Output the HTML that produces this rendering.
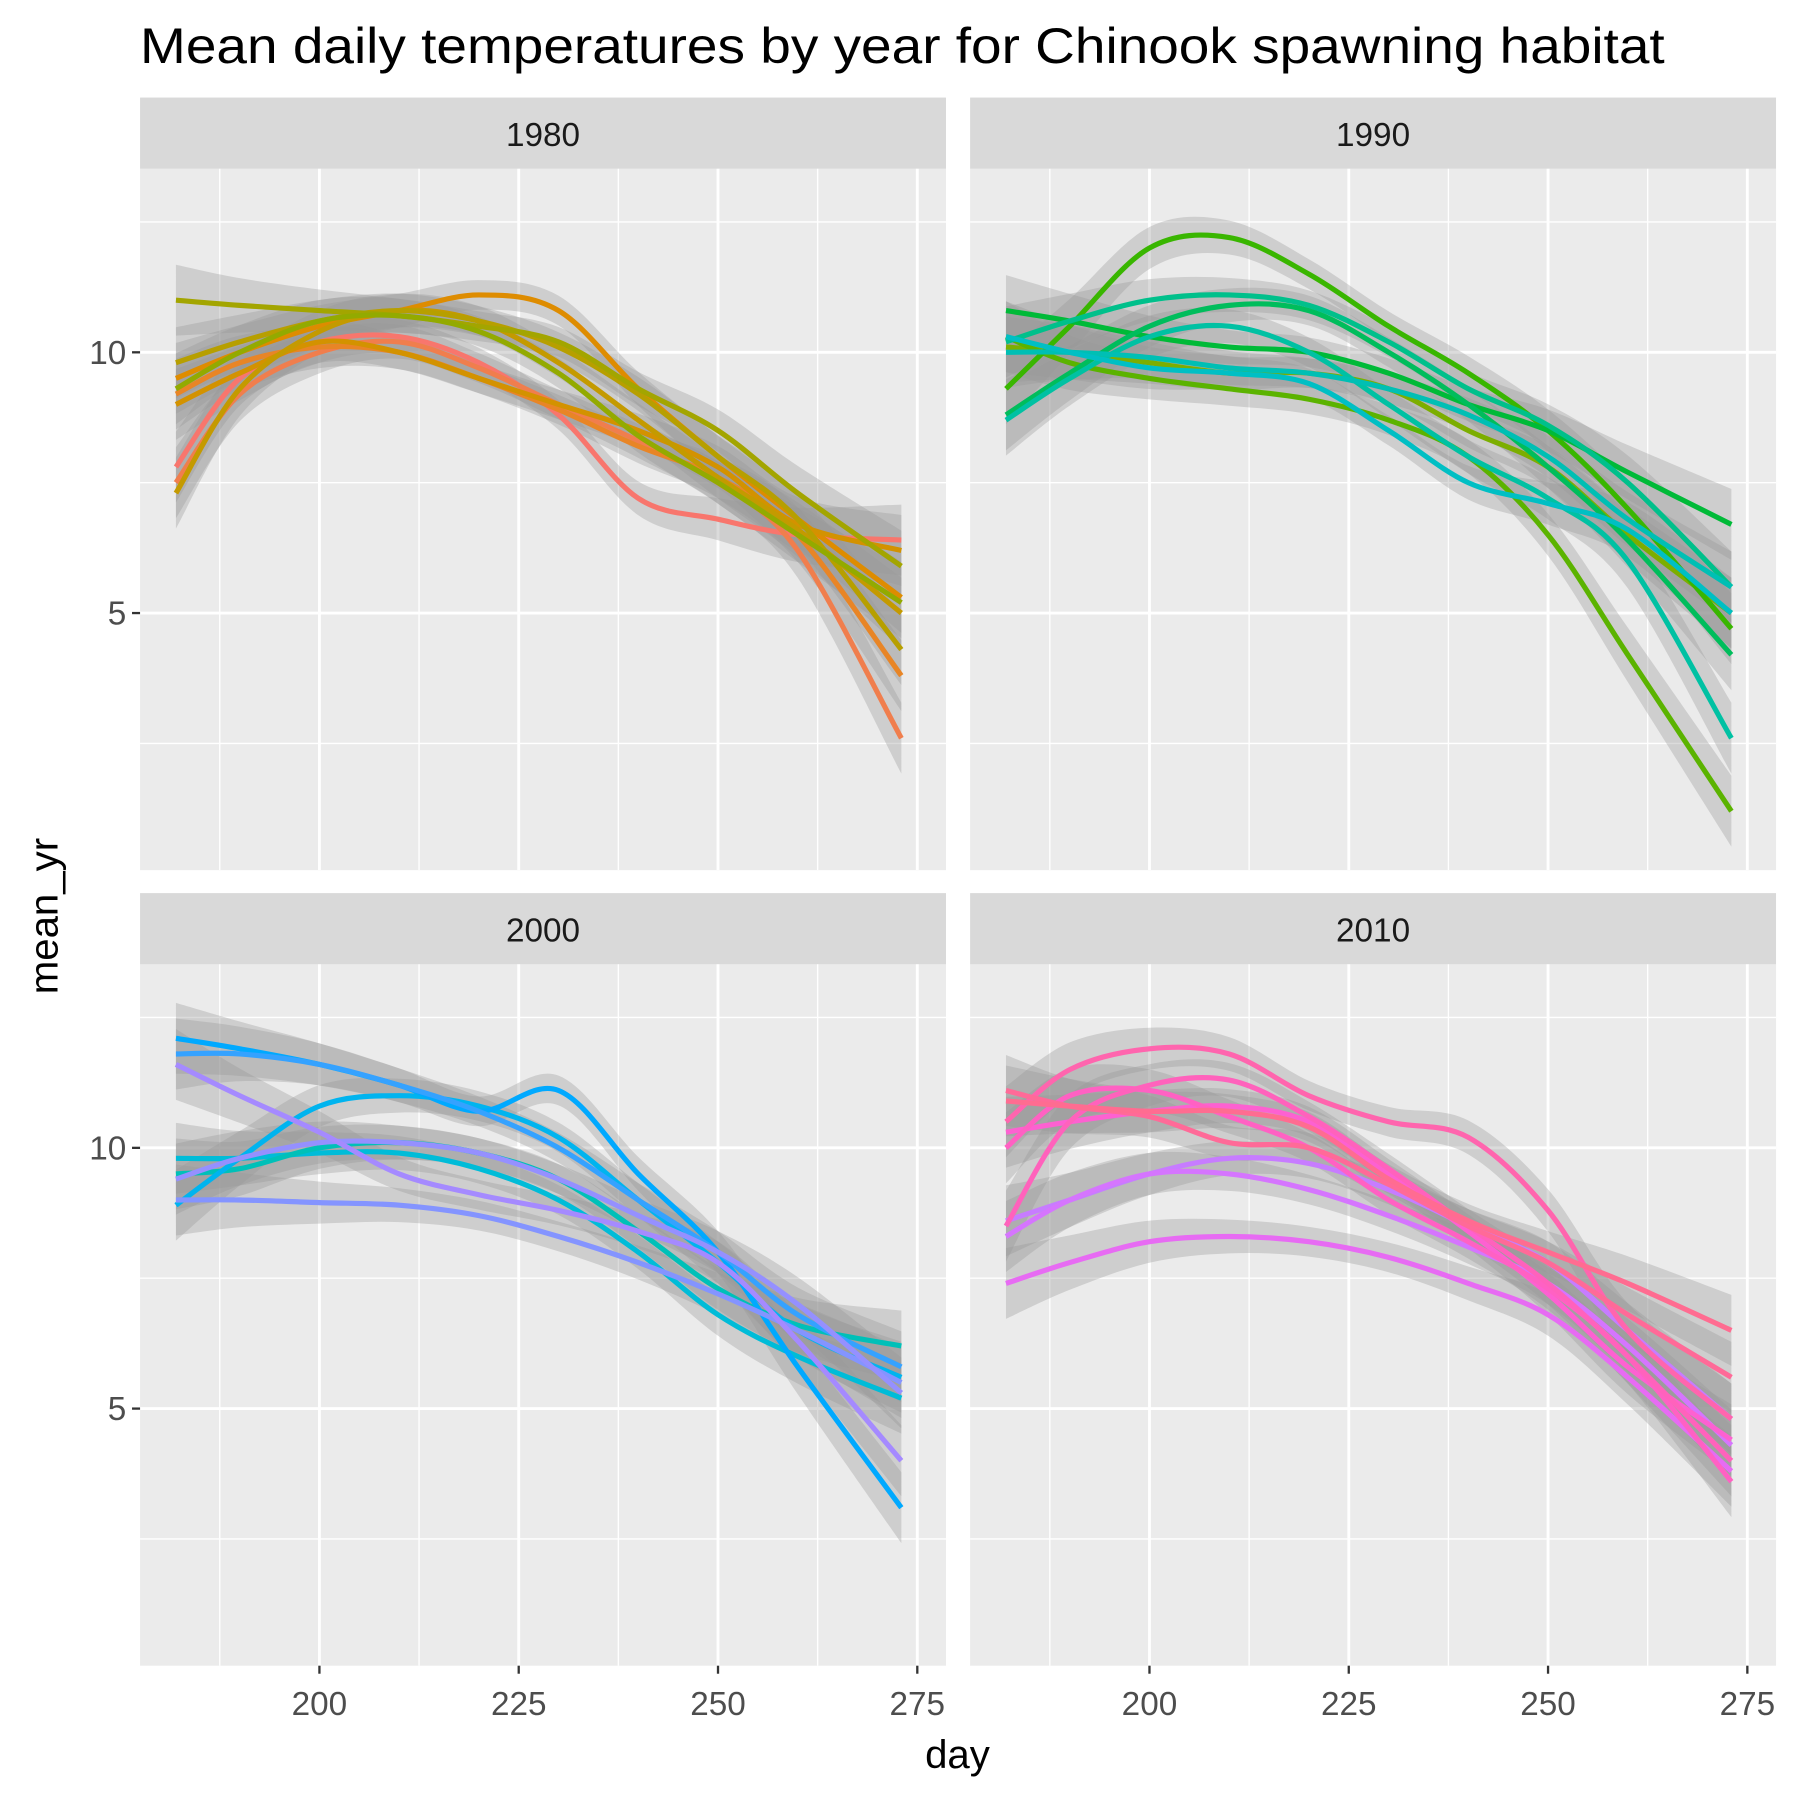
<!DOCTYPE html>
<html><head><meta charset="utf-8">
<style>html,body{margin:0;padding:0;background:#fff;}svg{display:block;}</style>
</head><body>
<svg id="chart" xmlns="http://www.w3.org/2000/svg" width="1799" height="1800" viewBox="0 0 1567 1568" preserveAspectRatio="none" font-family="Liberation Sans, Arial, sans-serif">
<text x="122" y="55" font-size="44" textLength="1328" lengthAdjust="spacingAndGlyphs" fill="#000">Mean daily temperatures by year for Chinook spawning habitat</text>
<text x="834" y="1540" font-size="35" text-anchor="middle" fill="#000">day</text>
<text transform="translate(50,798) rotate(-90)" font-size="35" text-anchor="middle" fill="#000">mean_yr</text>
<g id="panels"></g>
</svg>
<script>
const days = [182,190,200,210,220,230,240,250,260,273];
const xTicks = [200,225,250,275];
const yTicks = [5,10];
const panelLabels = ["1980","1990","2000","2010"];
const colors1980 = ["#F8766D","#F07E4D","#E88526","#DE8C00","#D39200","#C49A00","#B79F00","#A3A500","#93AA00"];
const series1980 = [
[7.8,9.5,10.2,10.3,9.8,8.8,7.2,6.8,6.5,6.4],
[7.5,9.2,10.0,10.2,9.7,9.0,8.3,7.5,6.2,2.6],
[9.2,9.8,10.1,10.0,9.5,8.9,8.2,7.6,6.5,3.8],
[9.5,10.0,10.5,10.8,11.1,10.8,9.3,8.0,6.8,5.3],
[9.0,9.6,10.2,10.0,9.5,9.0,8.5,7.8,6.7,6.2],
[7.3,9.3,10.4,10.8,10.6,9.8,8.7,7.6,6.6,5.0],
[9.8,10.2,10.6,10.8,10.6,10.1,9.2,8.0,6.8,4.3],
[11.0,10.9,10.8,10.7,10.5,10.2,9.3,8.5,7.3,5.9],
[9.3,10.0,10.6,10.7,10.4,9.6,8.4,7.5,6.5,5.2]];
const colors1990 = ["#7CAE00","#5BB300","#39B600","#00BA38","#00BD5C","#00C08B","#00C1A3","#00BFB4","#00BFC4"];
const series1990 = [
[10.1,10.0,9.8,9.6,9.6,9.3,8.5,7.8,6.5,5.0],
[10.3,9.8,9.5,9.3,9.1,8.7,8.0,6.5,4.2,1.2],
[9.3,10.5,12.0,12.2,11.5,10.5,9.6,8.5,7.0,4.7],
[10.8,10.6,10.3,10.1,10.0,9.6,9.0,8.5,7.7,6.7],
[8.8,9.6,10.5,10.9,10.8,10.0,9.0,7.8,6.4,4.2],
[10.2,10.6,11.0,11.1,10.9,10.2,9.3,8.6,7.5,5.5],
[8.7,9.5,10.3,10.5,10.0,9.0,8.0,7.2,6.0,2.6],
[10.0,10.0,9.9,9.7,9.6,9.3,8.8,8.0,6.8,5.5],
[10.3,10.0,9.7,9.6,9.4,8.5,7.5,7.1,6.6,5.0]];
const colors2000 = ["#00BCD8","#00C0B8","#00B4EF","#00A9FF","#35A2FF","#8494FF","#9590FF","#A58AFF"];
const series2000 = [
[9.8,9.8,9.9,9.9,9.6,9.0,8.0,6.8,6.0,5.2],
[9.5,9.6,10.0,10.1,9.9,9.4,8.4,7.3,6.6,6.2],
[8.9,9.8,10.8,11.0,10.8,10.2,9.0,7.8,6.5,5.6],
[12.1,11.9,11.6,11.2,10.7,11.1,9.5,8.0,5.8,3.1],
[11.8,11.8,11.6,11.2,10.7,10.0,9.0,8.0,6.8,5.8],
[9.0,9.0,8.95,8.9,8.7,8.3,7.8,7.2,6.5,5.5],
[9.4,9.8,10.1,10.1,9.9,9.4,8.7,8.0,7.0,5.3],
[11.6,11.0,10.3,9.5,9.1,8.8,8.4,7.8,6.3,4.0]];
const colors2010 = ["#C77CFF","#D575FE","#E76BF3","#FD61D1","#FF61C3","#FF62BC","#FF65AE","#FF6A98","#FF6C91"];
const series2010 = [
[8.6,9.0,9.5,9.8,9.7,9.2,8.5,7.8,6.5,4.8],
[8.3,9.0,9.5,9.5,9.2,8.7,8.1,7.4,6.2,4.3],
[7.4,7.8,8.2,8.3,8.2,7.9,7.4,6.8,5.6,3.8],
[10.3,10.5,10.7,10.8,10.5,9.5,8.4,7.2,5.8,4.4],
[10.0,11.0,11.1,10.6,10.0,9.0,8.2,7.3,6.0,3.6],
[8.5,10.5,11.2,11.3,10.6,9.6,8.5,7.4,6.0,4.0],
[10.5,11.5,11.9,11.8,11.0,10.5,10.2,8.8,6.5,4.8],
[11.1,10.8,10.6,10.1,10.0,9.3,8.5,7.8,6.8,5.6],
[10.9,10.8,10.7,10.7,10.4,9.4,8.6,8.0,7.4,6.5]];
const allColors=[colors1980,colors1990,colors2000,colors2010];
const allSeries=[series1980,series1990,series2000,series2010];

const NS="http://www.w3.org/2000/svg";
const root=document.getElementById('panels');
const X0=177.5,X1=278.6,Y0=0.07,Y1=13.52;
const panels=[{x:122,y:147},{x:845,y:147},{x:122,y:840},{x:845,y:840}];
const PW=702,PH=611;
function mk(tag,attrs,parent){const e=document.createElementNS(NS,tag);for(const k in attrs)e.setAttribute(k,attrs[k]);parent.appendChild(e);return e;}
function smooth(pts){let d="M"+pts[0][0]+","+pts[0][1];for(let i=0;i<pts.length-1;i++){const p0=pts[Math.max(0,i-1)],p1=pts[i],p2=pts[i+1],p3=pts[Math.min(pts.length-1,i+2)];const c1=[p1[0]+(p2[0]-p0[0])/6,p1[1]+(p2[1]-p0[1])/6],c2=[p2[0]-(p3[0]-p1[0])/6,p2[1]-(p3[1]-p1[1])/6];d+=" C"+c1[0]+","+c1[1]+" "+c2[0]+","+c2[1]+" "+p2[0]+","+p2[1];}return d;}
panels.forEach((P,pi)=>{
  const sx=v=>P.x+(v-X0)/(X1-X0)*PW;
  const sy=v=>P.y+PH-(v-Y0)/(Y1-Y0)*PH;
  const g=mk('g',{},root);
  
  
  const bg=mk('rect',{x:P.x,y:P.y,width:PW,height:PH,fill:'#EBEBEB'},g);
  
  
  const strip=mk('rect',{x:P.x,y:P.y-62,width:PW,height:62,fill:'#D9D9D9'},g);
  
  
  const st=mk('text',{x:P.x+PW/2,y:P.y-20,'font-size':29,'text-anchor':'middle',fill:'#1A1A1A'},g);
  st.textContent=panelLabels[pi];
  
  
  [2.5,7.5,12.5].forEach(v=>mk('line',{x1:P.x,x2:P.x+PW,y1:sy(v),y2:sy(v),stroke:'#fff','stroke-width':1.2},g));
  [187.5,212.5,237.5,262.5].forEach(v=>mk('line',{x1:sx(v),x2:sx(v),y1:P.y,y2:P.y+PH,stroke:'#fff','stroke-width':1.2},g));
  yTicks.forEach(v=>mk('line',{x1:P.x,x2:P.x+PW,y1:sy(v),y2:sy(v),stroke:'#fff','stroke-width':2.5},g));
  xTicks.forEach(v=>mk('line',{x1:sx(v),x2:sx(v),y1:P.y,y2:P.y+PH,stroke:'#fff','stroke-width':2.5},g));
  const ser=allSeries[pi],cols=allColors[pi];
  ser.forEach(s=>{
    const n=s.length;
    const hw=i=>{const t=Math.abs((i/(n-1))-0.5)*2;return 0.28+0.4*t*t;};
    const up=s.map((v,i)=>[sx(days[i]),sy(v+hw(i))]);
    const dn=s.map((v,i)=>[sx(days[i]),sy(v-hw(i))]).reverse();
    const sd=smooth(dn);
    const d=smooth(up)+" L"+dn[0][0]+","+dn[0][1]+sd.slice(sd.indexOf(' '))+" Z";
    const r=mk('path',{d:d,fill:'#999999','fill-opacity':0.35},g);
    
    
  });
  ser.forEach((s,si)=>{
    const pts=s.map((v,i)=>[sx(days[i]),sy(v)]);
    const l=mk('path',{d:smooth(pts),fill:'none',stroke:cols[si%cols.length],'stroke-width':4.5},g);
    
    
  });
  if(pi%2===0){
    yTicks.forEach(v=>{
      mk('line',{x1:P.x-7,x2:P.x,y1:sy(v),y2:sy(v),stroke:'#333','stroke-width':2},g);
      const t=mk('text',{x:P.x-12,y:sy(v)+10,'font-size':29,'text-anchor':'end',fill:'#4D4D4D'},g);
      t.textContent=v;
      
      
    });
  }
  if(pi>=2){
    xTicks.forEach(v=>{
      mk('line',{x1:sx(v),x2:sx(v),y1:P.y+PH,y2:P.y+PH+7,stroke:'#333','stroke-width':2},g);
      const t=mk('text',{x:sx(v),y:P.y+PH+43,'font-size':29,'text-anchor':'middle',fill:'#4D4D4D'},g);
      t.textContent=v;
      
      
    });
  }
});
</script>
</body></html>
